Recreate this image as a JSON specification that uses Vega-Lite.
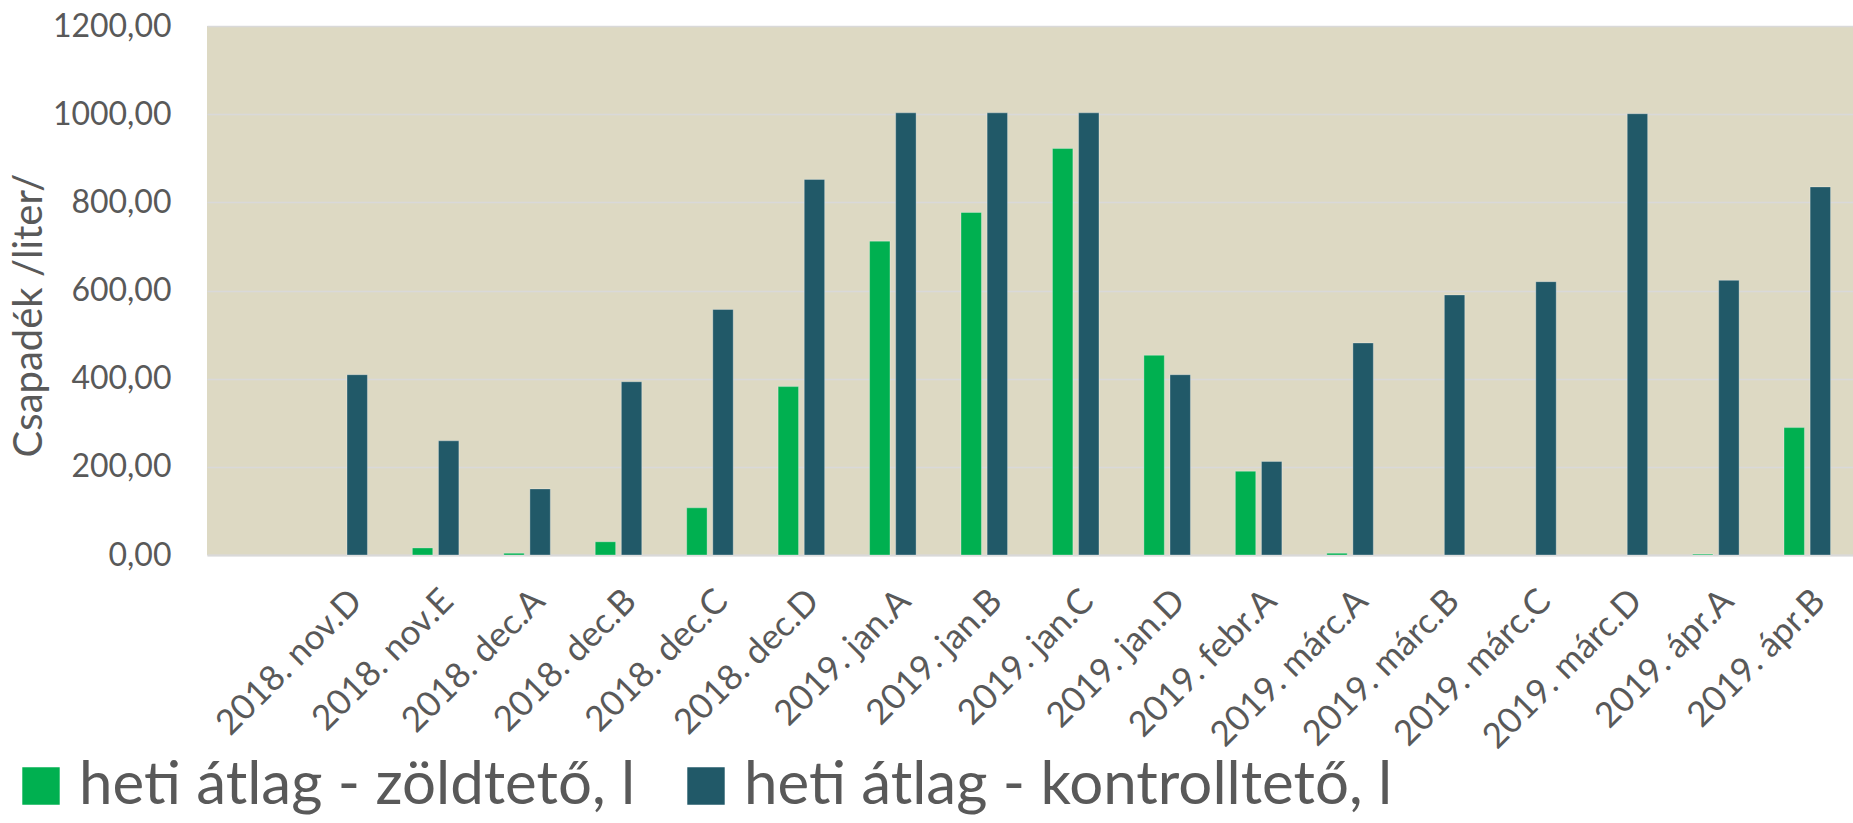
{
  "$schema": "https://vega.github.io/schema/vega-lite/v6.json",
  "autosize": "none",
  "padding": {"left": 207, "top": 26, "right": 0, "bottom": 268},
  "width": 1646,
  "height": 529,
  "background": "#ffffff",
  "config": {
    "view": {"stroke": null, "fill": "#DDD9C3"},
    "font": "Lato"
  },
  "data": {
    "values": [
      {"cat": "2018. nov.D", "series": "heti átlag - kontrolltető, l", "value": 409},
      {"cat": "2018. nov.E", "series": "heti átlag - zöldtető, l", "value": 16},
      {"cat": "2018. nov.E", "series": "heti átlag - kontrolltető, l", "value": 259},
      {"cat": "2018. dec.A", "series": "heti átlag - zöldtető, l", "value": 4},
      {"cat": "2018. dec.A", "series": "heti átlag - kontrolltető, l", "value": 150},
      {"cat": "2018. dec.B", "series": "heti átlag - zöldtető, l", "value": 30},
      {"cat": "2018. dec.B", "series": "heti átlag - kontrolltető, l", "value": 393},
      {"cat": "2018. dec.C", "series": "heti átlag - zöldtető, l", "value": 107},
      {"cat": "2018. dec.C", "series": "heti átlag - kontrolltető, l", "value": 557},
      {"cat": "2018. dec.D", "series": "heti átlag - zöldtető, l", "value": 382},
      {"cat": "2018. dec.D", "series": "heti átlag - kontrolltető, l", "value": 852},
      {"cat": "2019. jan.A", "series": "heti átlag - zöldtető, l", "value": 712},
      {"cat": "2019. jan.A", "series": "heti átlag - kontrolltető, l", "value": 1003},
      {"cat": "2019. jan.B", "series": "heti átlag - zöldtető, l", "value": 777},
      {"cat": "2019. jan.B", "series": "heti átlag - kontrolltető, l", "value": 1003},
      {"cat": "2019. jan.C", "series": "heti átlag - zöldtető, l", "value": 922},
      {"cat": "2019. jan.C", "series": "heti átlag - kontrolltető, l", "value": 1003},
      {"cat": "2019. jan.D", "series": "heti átlag - zöldtető, l", "value": 453},
      {"cat": "2019. jan.D", "series": "heti átlag - kontrolltető, l", "value": 409},
      {"cat": "2019. febr.A", "series": "heti átlag - zöldtető, l", "value": 190},
      {"cat": "2019. febr.A", "series": "heti átlag - kontrolltető, l", "value": 212},
      {"cat": "2019. márc.A", "series": "heti átlag - zöldtető, l", "value": 4},
      {"cat": "2019. márc.A", "series": "heti átlag - kontrolltető, l", "value": 481},
      {"cat": "2019. márc.B", "series": "heti átlag - kontrolltető, l", "value": 590},
      {"cat": "2019. márc.C", "series": "heti átlag - kontrolltető, l", "value": 620},
      {"cat": "2019. márc.D", "series": "heti átlag - kontrolltető, l", "value": 1001},
      {"cat": "2019. ápr.A", "series": "heti átlag - zöldtető, l", "value": 2},
      {"cat": "2019. ápr.A", "series": "heti átlag - kontrolltető, l", "value": 623},
      {"cat": "2019. ápr.B", "series": "heti átlag - zöldtető, l", "value": 289},
      {"cat": "2019. ápr.B", "series": "heti átlag - kontrolltető, l", "value": 835}
    ]
  },
  "mark": {"type": "bar", "stroke": "#ffffff", "strokeOpacity": 0.3, "strokeWidth": 1},
  "encoding": {
    "x": {
      "field": "cat",
      "type": "nominal",
      "sort": null,
      "title": null,
      "scale": {
        "domain": ["2018. nov.D", "2018. nov.E", "2018. dec.A", "2018. dec.B", "2018. dec.C", "2018. dec.D", "2019. jan.A", "2019. jan.B", "2019. jan.C", "2019. jan.D", "2019. febr.A", "2019. márc.A", "2019. márc.B", "2019. márc.C", "2019. márc.D", "2019. ápr.A", "2019. ápr.B"],
        "paddingInner": 0,
        "paddingOuter": 0.5,
        "align": 1
      },
      "axis": {
        "labelAngle": -45,
        "labelFontSize": 35,
        "labelColor": "#595959",
        "labelPadding": 28,
        "labelLimit": 500,
        "ticks": false,
        "domainColor": "#D9D9D9",
        "domainWidth": 2,
        "grid": false
      }
    },
    "xOffset": {
      "field": "series",
      "type": "nominal",
      "scale": {
        "domain": ["heti átlag - zöldtető, l", "heti átlag - kontrolltető, l"],
        "paddingInner": 0.218,
        "paddingOuter": 0.86
      }
    },
    "y": {
      "field": "value",
      "type": "quantitative",
      "scale": {"domain": [0, 1200], "nice": false},
      "axis": {
        "values": [0, 200, 400, 600, 800, 1000, 1200],
        "labelExpr": "replace(format(datum.value, '.2f'), '.', ',')",
        "labelFontSize": 32,
        "labelColor": "#595959",
        "labelPadding": 36,
        "ticks": false,
        "domain": false,
        "grid": true,
        "gridColor": "#D9D9D9",
        "gridWidth": 1.5,
        "title": "Csapadék /liter/",
        "titleFontSize": 40,
        "titleFontWeight": "normal",
        "titleColor": "#595959",
        "titleAngle": 270,
        "titleX": -178,
        "titleY": 289,
        "titleAlign": "center",
        "titleBaseline": "middle"
      }
    },
    "color": {
      "field": "series",
      "type": "nominal",
      "scale": {
        "domain": ["heti átlag - zöldtető, l", "heti átlag - kontrolltető, l"],
        "range": ["#00B050", "#215968"]
      },
      "legend": {
        "orient": "none",
        "legendX": -196,
        "legendY": 730,
        "padding": 0,
        "direction": "horizontal",
        "title": null,
        "symbolType": "square",
        "symbolSize": 1400,
        "symbolStrokeWidth": 0,
        "symbolOpacity": 1,
        "labelFontSize": 60,
        "labelColor": "#595959",
        "labelOffset": 8,
        "columnPadding": 40,
        "labelLimit": 1000
      }
    }
  }
}
